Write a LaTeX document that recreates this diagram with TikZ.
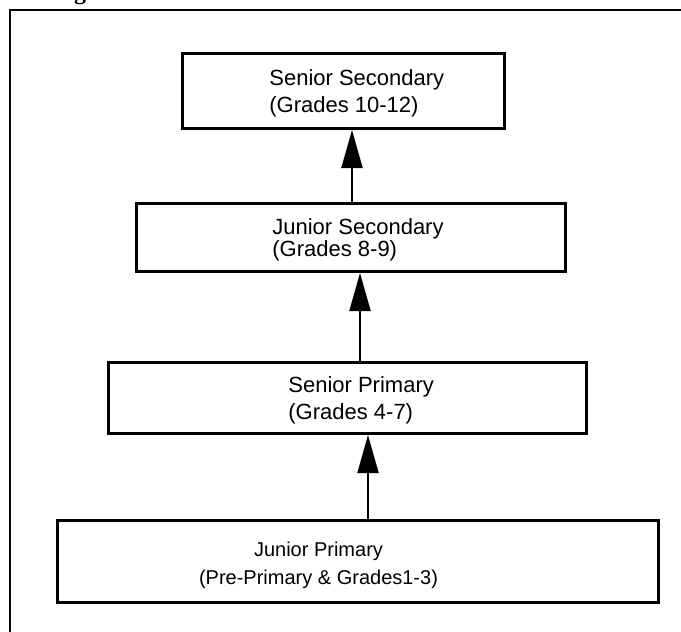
\documentclass[tikz,border=0pt]{standalone}
\usepackage{fontspec}
\setmainfont{Liberation Sans}
\newfontfamily\headfont{Liberation Serif}
\usetikzlibrary{arrows.meta}

\begin{document}
\begin{tikzpicture}[x=0.5pt,y=-0.5pt,
		stage/.style={draw, line width=1.4pt, inner sep=0pt},
		stagetext/.style={inner sep=0pt, align=left, font=\fontsize{11}{13.5}\selectfont},
		up/.style={line width=1pt, -{Triangle[length=19pt,width=10.5pt]}}]
%		\draw[very thin,densely dashed] (0,0) grid[step=50] (681,632);
		\useasboundingbox (0,0) rectangle (681,632);
		% frame of the figure, only top and left are shown
		\draw[line width=1pt] (681,10)--(10,10)--(10,632);
		\node [anchor=base, inner sep=0pt, font=\headfont\bfseries\fontsize{12}{14}\selectfont] (cut) at (80,-1) {g};
		% the four stages
		\node [stage, minimum width=161pt, minimum height=37.6pt] (ss) at (343.5,91) {};
		\node [stage, minimum width=214.6pt, minimum height=34.1pt] (js) at (351,237.5) {};
		\node [stage, minimum width=239.1pt, minimum height=35.6pt] (sp) at (347.5,398) {};
		\node [stage, minimum width=300.6pt, minimum height=41.1pt] (jp) at (358,561.5) {};
		\node [stagetext, anchor=west] (sstext) at (269,93.8)
		{Senior Secondary\\(Grades 10-12)};
		\node [stagetext, anchor=west, font=\fontsize{11}{11}\selectfont] (jstext) at (272,240.3)
		{Junior Secondary\\(Grades 8-9)};
		\node [stagetext, anchor=west] (sptext) at (288,400.8)
		{Senior Primary\\(Grades 4-7)};
		\node [stagetext, align=center, font=\fontsize{10}{14}\selectfont] (jptext) at (318.5,565.8)
		{Junior Primary\\(Pre-Primary \& Grades1-3)};
		% arrows upwards
		\draw [up] (js.north -| 352,0)--(ss.south -| 352,0);
		\draw [up] (sp.north -| 360,0)--(js.south -| 360,0);
		\draw [up] (jp.north -| 368,0)--(sp.south -| 368,0);
	\end{tikzpicture}
\end{document}
